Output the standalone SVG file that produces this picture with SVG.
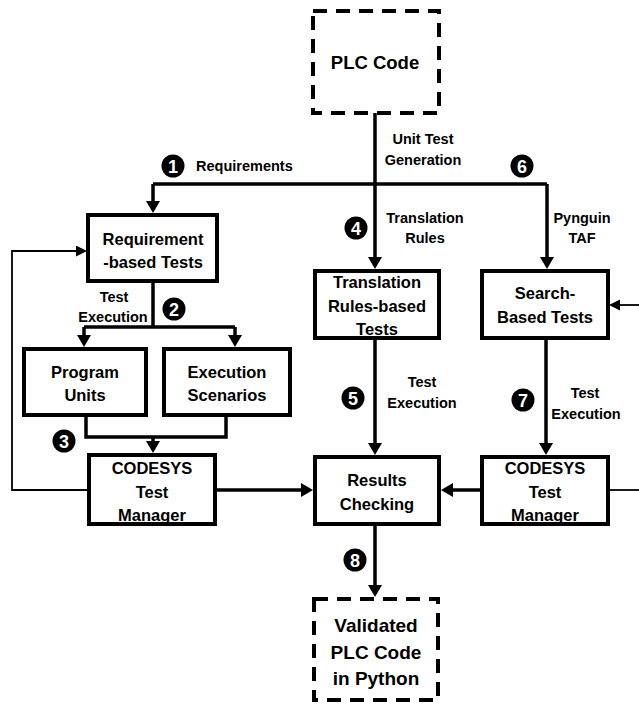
<svg xmlns="http://www.w3.org/2000/svg" width="639" height="704" viewBox="0 0 639 704">
<style>
.box{fill:#fff;stroke:#000;stroke-width:4}
.dash{fill:#fff;stroke:#000;stroke-width:4;stroke-dasharray:14 9}
.t{font-family:"Liberation Sans",Arial,sans-serif;font-weight:bold;font-size:16.5px;text-anchor:middle;fill:#000}
.big{font-size:18.5px}
.lbl{font-family:"Liberation Sans",Arial,sans-serif;font-weight:bold;font-size:14.5px;text-anchor:middle;fill:#000}
.c{fill:none;stroke:#000;stroke-width:3.5}
.thin{fill:none;stroke:#000;stroke-width:1.8}
.num{font-family:"Liberation Sans",Arial,sans-serif;font-weight:bold;font-size:18px;text-anchor:middle;fill:#fff}
</style>
<defs>
<marker id="ah" markerUnits="userSpaceOnUse" markerWidth="14" markerHeight="14" refX="6" refY="7" orient="auto">
<path d="M0,0 L12,7 L0,14 z" fill="#000"/>
</marker>
<marker id="ahs" markerUnits="userSpaceOnUse" markerWidth="12" markerHeight="12" refX="5" refY="5.5" orient="auto">
<path d="M0,0 L11,5.5 L0,11 z" fill="#000"/>
</marker>
</defs>

<g id="connectors">
<path class="c" d="M375,113 L375,263" marker-end="url(#ah)"/>
<path class="c" d="M153,184 L547,184"/>
<path class="c" d="M153,184 L153,207" marker-end="url(#ah)"/>
<path class="c" d="M547,184 L547,263" marker-end="url(#ah)"/>
<path class="c" d="M153,281 L153,327"/>
<path class="c" d="M84,327 L235,327"/>
<path class="c" d="M84,327 L84,341" marker-end="url(#ah)"/>
<path class="c" d="M235,327 L235,341" marker-end="url(#ah)"/>
<path class="c" d="M86,417 L86,437 L226,437 L226,417"/>
<path class="c" d="M153,437 L153,447" marker-end="url(#ah)"/>
<path class="thin" d="M87,490 L12,490 L12,251 L81,251" marker-end="url(#ahs)"/>
<path class="c" d="M217,490 L307,490" marker-end="url(#ah)"/>
<path class="c" d="M375,340 L375,449" marker-end="url(#ah)"/>
<path class="c" d="M546,340 L546,449" marker-end="url(#ah)"/>
<path class="c" d="M480,490 L447,490" marker-end="url(#ah)"/>
<path class="thin" d="M610,490 L639,490"/>
<path class="thin" d="M639,305 L615,305" marker-end="url(#ahs)"/>
<path class="c" d="M375,526 L375,591" marker-end="url(#ah)"/>
</g>

<g id="labels">
<circle cx="173" cy="166" r="11.5"/><text class="num" x="173" y="172.5">1</text>
<text class="lbl" x="196" y="171" style="text-anchor:start">Requirements</text>
<text class="lbl" x="423" y="144">Unit Test</text>
<text class="lbl" x="423" y="165">Generation</text>
<circle cx="522" cy="166" r="11.5"/><text class="num" x="522" y="172.5">6</text>
<circle cx="356" cy="228" r="11.5"/><text class="num" x="356" y="234.5">4</text>
<text class="lbl" x="425" y="223">Translation</text>
<text class="lbl" x="425" y="243">Rules</text>
<text class="lbl" x="582" y="223">Pynguin</text>
<text class="lbl" x="582" y="243">TAF</text>
<text class="lbl" x="114" y="302">Test</text>
<text class="lbl" x="113" y="322">Execution</text>
<circle cx="174" cy="309" r="11.5"/><text class="num" x="174" y="315.5">2</text>
<circle cx="64" cy="441" r="11.5"/><text class="num" x="64" y="447.5">3</text>
<circle cx="353" cy="398" r="11.5"/><text class="num" x="353" y="404.5">5</text>
<text class="lbl" x="422" y="387">Test</text>
<text class="lbl" x="422" y="408">Execution</text>
<circle cx="523" cy="400" r="11.5"/><text class="num" x="523" y="406.5">7</text>
<text class="lbl" x="585" y="398">Test</text>
<text class="lbl" x="586" y="419">Execution</text>
<circle cx="355" cy="560" r="11.5"/><text class="num" x="355" y="566.5">8</text>
</g>

<g id="plc-code">
<rect class="dash" x="313" y="11" width="126" height="102"/>
<text class="t big" x="375" y="69">PLC Code</text>
</g>
<g id="requirement-tests">
<rect class="box" x="88" y="215" width="129" height="66"/>
<text class="t" x="153" y="245">Requirement</text>
<text class="t" x="153" y="268">-based Tests</text>
</g>
<g id="program-units">
<rect class="box" x="24" y="349" width="122" height="66"/>
<text class="t" x="85" y="378">Program</text>
<text class="t" x="85" y="401">Units</text>
</g>
<g id="execution-scenarios">
<rect class="box" x="164" y="349" width="126" height="66"/>
<text class="t" x="227" y="378">Execution</text>
<text class="t" x="227" y="401">Scenarios</text>
</g>
<g id="codesys-left">
<rect class="box" x="89" y="455" width="126" height="69"/>
<text class="t" x="152" y="474">CODESYS</text>
<text class="t" x="152" y="498">Test</text>
<text class="t" x="152" y="521">Manager</text>
</g>
<g id="translation-tests">
<rect class="box" x="315" y="271" width="124" height="67"/>
<text class="t" x="377" y="288">Translation</text>
<text class="t" x="377" y="312">Rules-based</text>
<text class="t" x="377" y="335">Tests</text>
</g>
<g id="search-tests">
<rect class="box" x="482" y="271" width="126" height="67"/>
<text class="t" x="545" y="299">Search-</text>
<text class="t" x="545" y="323">Based Tests</text>
</g>
<g id="results-checking">
<rect class="box" x="315" y="457" width="124" height="67"/>
<text class="t" x="377" y="486">Results</text>
<text class="t" x="377" y="510">Checking</text>
</g>
<g id="codesys-right">
<rect class="box" x="482" y="457" width="126" height="67"/>
<text class="t" x="545" y="474">CODESYS</text>
<text class="t" x="545" y="498">Test</text>
<text class="t" x="545" y="521">Manager</text>
</g>
<g id="validated-code">
<rect class="dash" x="314" y="599" width="124" height="101"/>
<text class="t" x="376" y="632" style="font-size:19px">Validated</text>
<text class="t" x="376" y="659" style="font-size:19px">PLC Code</text>
<text class="t" x="376" y="685" style="font-size:19px">in Python</text>
</g>
</svg>
